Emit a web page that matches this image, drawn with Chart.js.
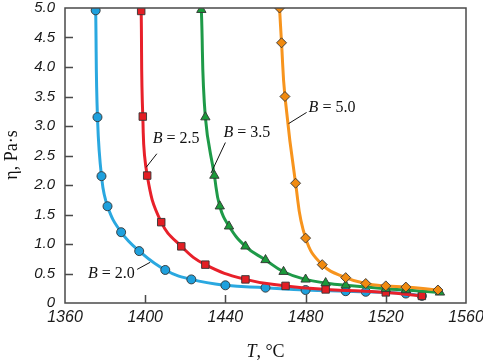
<!DOCTYPE html>
<html>
<head>
<meta charset="utf-8">
<script src="https://cdn.jsdelivr.net/npm/chart.js@4"></script>
<style>
  html, body { margin: 0; padding: 0; background: #fff; }
  #wrap { width: 483px; height: 363px; }
</style>
</head>
<body>
<div id="wrap"><canvas id="chart" width="483" height="363"></canvas></div>
<script>
// Data: temperature (°C) and viscosity (Pa·s)
var b20T = [1375.3, 1376.2, 1378.2, 1381.2, 1388, 1397, 1410, 1423, 1440, 1460, 1480, 1500, 1510, 1530, 1538]
var b20V = [4.96, 3.15, 2.15, 1.64, 1.20, 0.88, 0.56, 0.40, 0.30, 0.26, 0.22, 0.20, 0.19, 0.16, 0.12]

var b25T = [1398, 1398.8, 1401, 1408, 1418, 1430, 1450, 1470, 1490, 1520, 1538]
var b25V = [4.95, 3.16, 2.16, 1.37, 0.96, 0.65, 0.40, 0.29, 0.23, 0.18, 0.12]

var b35T = [1428, 1430, 1434.5, 1437.2, 1441.8, 1450, 1460, 1469, 1480, 1490, 1500, 1520, 1530, 1547]
var b35V = [4.97, 3.15, 2.16, 1.64, 1.30, 0.96, 0.73, 0.53, 0.40, 0.34, 0.30, 0.24, 0.22, 0.18]

var b50T = [1467, 1468, 1469.7, 1475, 1480, 1488.3, 1500, 1510, 1520, 1530, 1546]
var b50V = [5.0, 4.41, 3.50, 2.03, 1.10, 0.65, 0.43, 0.33, 0.29, 0.27, 0.22]

var seriesLabels = ['2.0', '2.5', '3.5', '5.0']
var xTicks = [1360, 1400, 1440, 1480, 1520, 1560]
var yTicks = [0, 0.5, 1, 1.5, 2, 2.5, 3, 3.5, 4, 4.5, 5]

var serif = '"Liberation Serif", "Times New Roman", serif'
var sans = '"Liberation Sans", Arial, sans-serif'

function pts(t, v) {
    return t.map(function (x, i) { return { x: x, y: v[i] } })
}

function serie(t, v, line, fill, style, radius, order) {
    return {
        data: pts(t, v),
        showLine: true,
        borderColor: line,
        borderWidth: 3,
        tension: 0.45,
        pointStyle: style,
        pointRadius: radius,
        pointBackgroundColor: fill,
        pointBorderColor: '#333',
        pointBorderWidth: 0.9,
        order: order
    }
}

// Labels "B = x" with leader line (data coords: text left/middle, line start, line end)
var notes = [
    { txt: seriesLabels[0], at: [1371.5, 0.49], from: [1396, 0.57], to: [1402.5, 0.69] },
    { txt: seriesLabels[1], at: [1403.8, 2.79], from: [1405.8, 2.53], to: [1400.5, 2.30] },
    { txt: seriesLabels[2], at: [1439, 2.89], from: [1440, 2.72], to: [1432.8, 2.20] },
    { txt: seriesLabels[3], at: [1481.5, 3.31], from: [1480.5, 3.23], to: [1471.5, 3.04] }
]

var decor = {
    id: 'decor',
    afterDatasetsDraw: function (chart) {
        let ctx = chart.ctx
        let a = chart.chartArea
        let xs = chart.scales.x
        let ys = chart.scales.y
        ctx.save()
        // frame
        ctx.strokeStyle = '#4a4a4a'
        ctx.lineWidth = 1.5
        ctx.strokeRect(a.left, a.top, a.right - a.left, a.bottom - a.top)
        // inward ticks
        ctx.beginPath()
        xTicks.slice(1, -1).forEach(function (t) {
            let px = Math.round(xs.getPixelForValue(t)) + 0.5
            ctx.moveTo(px, a.bottom)
            ctx.lineTo(px, a.bottom - 8)
        })
        yTicks.slice(1, -1).forEach(function (t) {
            let py = Math.round(ys.getPixelForValue(t)) + 0.5
            ctx.moveTo(a.left, py)
            ctx.lineTo(a.left + 8, py)
        })
        ctx.stroke()

        // notes
        ctx.fillStyle = '#111'
        ctx.strokeStyle = '#111'
        ctx.lineWidth = 1
        ctx.textBaseline = 'middle'
        ctx.textAlign = 'left'
        notes.forEach(function (n) {
            ctx.beginPath()
            ctx.moveTo(xs.getPixelForValue(n.from[0]), ys.getPixelForValue(n.from[1]))
            ctx.lineTo(xs.getPixelForValue(n.to[0]), ys.getPixelForValue(n.to[1]))
            ctx.stroke()
            let x = xs.getPixelForValue(n.at[0])
            let y = ys.getPixelForValue(n.at[1])
            ctx.font = 'italic 16px ' + serif
            ctx.fillText('B', x, y)
            x += ctx.measureText('B').width
            ctx.font = '16px ' + serif
            ctx.fillText(' = ' + n.txt, x, y)
        })

        // axis titles
        let cx = (a.left + a.right) / 2
        ctx.font = 'italic 18px ' + serif
        let w1 = ctx.measureText('T').width
        ctx.font = '18px ' + serif
        let w2 = ctx.measureText(', °C').width
        let sx = cx - (w1 + w2) / 2
        ctx.font = 'italic 18px ' + serif
        ctx.fillText('T', sx, 352)
        ctx.font = '18px ' + serif
        ctx.fillText(', °C', sx + w1, 352)

        ctx.translate(12, 155)
        ctx.rotate(-Math.PI / 2)
        ctx.textAlign = 'center'
        ctx.font = '18px ' + serif
        ctx.fillText('η, Pa·s', 0, 0)
        ctx.restore()
    }
}

new Chart(document.getElementById('chart'), {
    type: 'scatter',
    data: {
        datasets: [
            serie(b20T, b20V, '#2aa8e0', '#1ea0dd', 'circle', 4.5, 4),
            serie(b25T, b25V, '#e8202a', '#e31e24', 'rect', 5.3, 3),
            serie(b35T, b35V, '#1e9a48', '#1a9a3a', 'triangle', 5.4, 2),
            serie(b50T, b50V, '#f7941d', '#f08a10', 'rectRot', 5, 1)
        ]
    },
    plugins: [decor],
    options: {
        responsive: false,
        animation: false,
        layout: { padding: { top: 8, right: 17, left: 0, bottom: 0 } },
        plugins: { legend: { display: false }, tooltip: { enabled: false } },
        scales: {
            x: {
                type: 'linear',
                min: 1360, max: 1560,
                afterBuildTicks: function (s) { s.ticks = xTicks.map(function (v) { return { value: v } }) },
                afterFit: function (s) { s.height = 60; s.paddingRight = 0; s.paddingLeft = 0 },
                grid: { display: false, drawTicks: false },
                border: { display: false },
                ticks: {
                    padding: 5, color: '#1a1a1a', font: { family: sans, size: 16, style: 'italic' }, maxRotation: 0,
                    callback: function (v) { return String(v) }
                }
            },
            y: {
                min: 0, max: 5,
                afterBuildTicks: function (s) { s.ticks = yTicks.map(function (v) { return { value: v } }) },
                afterFit: function (s) { s.width = 65; s.paddingTop = 0; s.paddingBottom = 0 },
                grid: { display: false, drawTicks: false },
                border: { display: false },
                ticks: {
                    padding: 10, color: '#1a1a1a', font: { family: sans, size: 15, style: 'italic', lineHeight: 1 },
                    callback: function (v) { return v === 0 ? '0' : v.toFixed(1) }
                }
            }
        }
    }
});
</script>
</body>
</html>
